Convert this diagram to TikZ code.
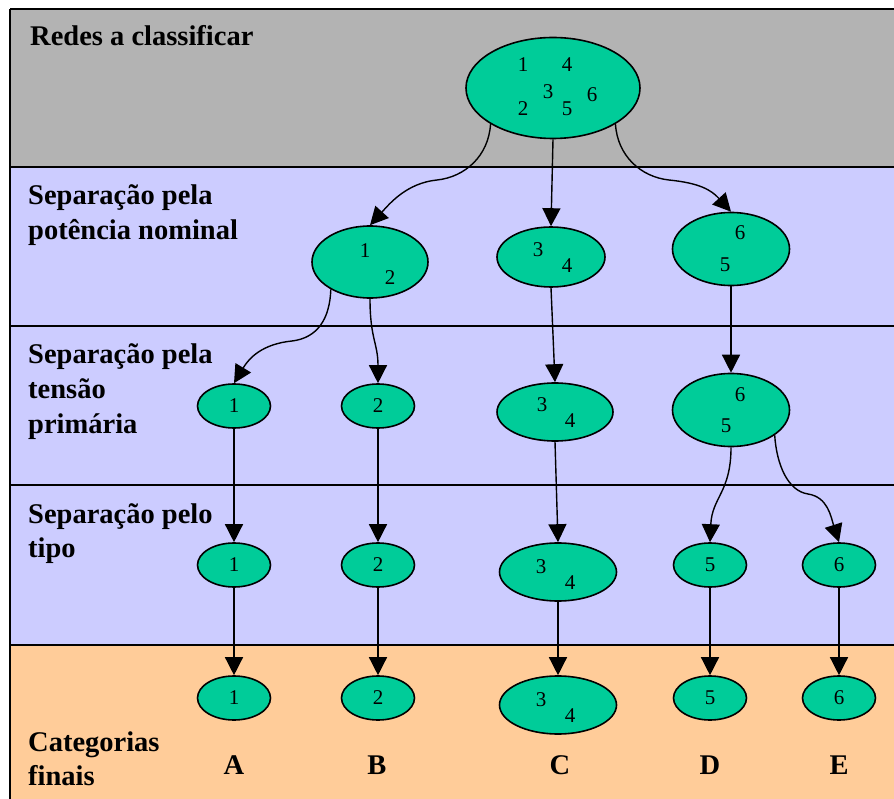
\documentclass[tikz,border=0pt]{standalone}
\usepackage{fontspec}
\setmainfont{Liberation Serif}
\usetikzlibrary{arrows.meta,shapes.geometric}
\definecolor{bandgray}{RGB}{179,179,179}
\definecolor{bandlav}{RGB}{204,204,255}
\definecolor{bandorange}{RGB}{255,204,153}
\definecolor{nodegreen}{RGB}{0,204,153}
\begin{document}
\begin{tikzpicture}[x=1pt,y=-1pt,
  bandline/.style={draw=black,line width=1.5pt},
  ell/.style={ellipse,draw=black,line width=1.6pt,fill=nodegreen,inner sep=0pt},
  smallell/.style={ell,minimum width=73pt,minimum height=44pt},
  dig/.style={font=\fontsize{21}{21}\selectfont,inner sep=0pt},
  lab/.style={font=\fontsize{28.5}{28.5}\selectfont\bfseries,anchor=base west,inner sep=0pt},
  cat/.style={font=\fontsize{28.5}{28.5}\selectfont\bfseries,anchor=base,inner sep=0pt},
  conn/.style={line width=1.4pt,-{Triangle[length=18pt,width=18pt]}}]
\useasboundingbox (0,0) rectangle (894,799);
\fill[white] (0,0) rectangle (894,799);
\fill[bandgray] (10,9) rectangle (894,167);
\fill[bandlav] (10,167) rectangle (894,645);
\fill[bandorange] (10,645) rectangle (894,799);
\draw[bandline] (10,9) -- (894,9);
\draw[bandline] (10,9) -- (10,799);
\draw[bandline] (10,167) -- (894,167);
\draw[bandline] (10,326) -- (894,326);
\draw[bandline] (10,485) -- (894,485);
\draw[bandline] (10,645) -- (894,645);

% row labels
\node[lab] (l1) at (30,46) {Redes a classificar};
\node[lab] (l2a) at (28,205) {Separação pela};
\node[lab] (l2b) at (28,240) {potência nominal};
\node[lab] (l3a) at (28,364) {Separação pela};
\node[lab] (l3b) at (28,399) {tensão};
\node[lab] (l3c) at (28,433) {primária};
\node[lab] (l4a) at (28,523) {Separação pelo};
\node[lab] (l4b) at (28,557) {tipo};
\node[lab] (l5a) at (28,751) {Categorias};
\node[lab] (l5b) at (28,785) {finais};

% nodes
\node[ell,minimum width=174pt,minimum height=101pt] (top) at (553,88) {};
\node[dig] (t1) at (523,65) {1};
\node[dig] (t4) at (567,65) {4};
\node[dig] (t3) at (548,92) {3};
\node[dig] (t6) at (592,95) {6};
\node[dig] (t2) at (523,109) {2};
\node[dig] (t5) at (567,109) {5};

\node[ell,minimum width=116pt,minimum height=72pt] (n12) at (370,262) {};
\node[dig] (n12a) at (365,251) {1};
\node[dig] (n12b) at (390,278) {2};
\node[ell,minimum width=108pt,minimum height=60pt] (n34a) at (551,257) {};
\node[dig] (n34a3) at (538,250) {3};
\node[dig] (n34a4) at (567,266) {4};
\node[ell,minimum width=117pt,minimum height=73pt] (n65a) at (731,249) {};
\node[dig] (n65a6) at (740,233) {6};
\node[dig] (n65a5) at (725,265) {5};

\node[smallell] (n1b) at (234,406) {};
\node[dig] (n1bd) at (234,406) {1};
\node[smallell] (n2b) at (378,406) {};
\node[dig] (n2bd) at (378,406) {2};
\node[ell,minimum width=116pt,minimum height=58pt] (n34b) at (555,412) {};
\node[dig] (n34b3) at (542,405) {3};
\node[dig] (n34b4) at (570,421) {4};
\node[ell,minimum width=117pt,minimum height=73pt] (n65b) at (731,410) {};
\node[dig] (n65b6) at (740,395) {6};
\node[dig] (n65b5) at (726,426) {5};

\node[smallell] (n1c) at (234,565) {};
\node[dig] (n1cd) at (234,565) {1};
\node[smallell] (n2c) at (378,565) {};
\node[dig] (n2cd) at (378,565) {2};
\node[ell,minimum width=117pt,minimum height=58pt] (n34c) at (558,572) {};
\node[dig] (n34c3) at (541,567) {3};
\node[dig] (n34c4) at (570,583) {4};
\node[smallell] (n5c) at (710,565) {};
\node[dig] (n5cd) at (710,565) {5};
\node[smallell] (n6c) at (839,565) {};
\node[dig] (n6cd) at (839,565) {6};

\node[smallell] (n1d) at (234,698) {};
\node[dig] (n1dd) at (234,698) {1};
\node[smallell] (n2d) at (378,698) {};
\node[dig] (n2dd) at (378,698) {2};
\node[ell,minimum width=117pt,minimum height=58pt] (n34d) at (558,705) {};
\node[dig] (n34d3) at (541,700) {3};
\node[dig] (n34d4) at (570,716) {4};
\node[smallell] (n5d) at (710,698) {};
\node[dig] (n5dd) at (710,698) {5};
\node[smallell] (n6d) at (839,698) {};
\node[dig] (n6dd) at (839,698) {6};

% category letters
\node[cat] (ca) at (234,774) {A};
\node[cat] (cb) at (377,774) {B};
\node[cat] (cc) at (560,774) {C};
\node[cat] (cd) at (710,774) {D};
\node[cat] (ce) at (839,774) {E};

% connectors
\draw[conn] (top.210) .. controls +(-2,32) and +(28,-3) .. (437,180) .. controls +(-30,3) and +(20,-22) .. (n12.north);
\draw[conn] (top.south) -- (n34a.north);
\draw[conn] (top.330) .. controls +(2,32) and +(-28,-3) .. (669,180) .. controls +(30,3) and +(-20,-22) .. (n65a.north);
\draw[conn] (n12.215) .. controls +(-1,30) and +(25,-3) .. (292,341) .. controls +(-30,3) and +(15,-25) .. (n1b.north);
\draw[conn] (n12.south) .. controls +(0,40) and +(0,-40) .. (n2b.north);
\draw[conn] (n34a.south) -- (n34b.north);
\draw[conn] (n65a.south) -- (n65b.north);
\draw[conn] (n1b.south) -- (n1c.north);
\draw[conn] (n2b.south) -- (n2c.north);
\draw[conn] (n34b.south) -- (n34c.north);
\draw[conn] (n65b.south) .. controls +(0,45) and +(2,-45) .. (n5c.north);
\draw[conn] (n65b.330) .. controls +(2,30) and +(-20,-3) .. (808,494) .. controls +(20,3) and +(-8,-25) .. (n6c.north);
\draw[conn] (n1c.south) -- (n1d.north);
\draw[conn] (n2c.south) -- (n2d.north);
\draw[conn] (n34c.south) -- (n34d.north);
\draw[conn] (n5c.south) -- (n5d.north);
\draw[conn] (n6c.south) -- (n6d.north);
\end{tikzpicture}
\end{document}
